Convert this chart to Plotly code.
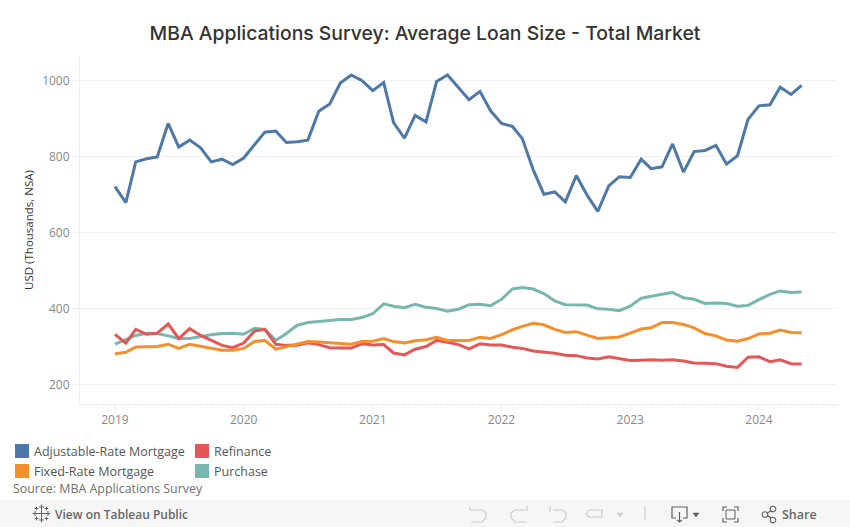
import pandas as pd
import plotly.graph_objects as go

# data (USD thousands, monthly)
months = pd.date_range("2019-01-01", periods=65, freq="MS")

arm = [721, 679, 786, 794, 799, 887, 825, 843, 823, 786, 793, 779, 796, 830, 864, 867,
       837, 839, 843, 919, 938, 993, 1014, 1000, 973, 994, 889, 848, 908, 891, 997, 1014,
       981, 949, 971, 920, 887, 879, 847, 765, 701, 707, 681, 750, 698, 656, 723, 747,
       745, 793, 768, 773, 833, 759, 813, 816, 829, 780, 802, 898, 933, 936, 982, 963, 987]
purchase = [307, 320, 330, 336, 335, 329, 322, 322, 328, 332, 335, 336, 333, 349, 346, 317,
            335, 357, 364, 367, 371, 372, 372, 377, 387, 413, 407, 403, 412, 404, 401, 394,
            399, 411, 412, 408, 425, 452, 456, 452, 440, 421, 411, 411, 410, 400, 399, 395,
            407, 428, 432, 438, 443, 429, 425, 414, 415, 414, 407, 409, 424, 438, 447, 443, 444]
refinance = [333, 310, 346, 333, 336, 360, 322, 348, 330, 317, 304, 298, 310, 342, 346, 307,
             304, 304, 311, 306, 298, 297, 297, 308, 305, 306, 284, 279, 294, 301, 317, 312,
             306, 295, 308, 305, 305, 299, 296, 289, 287, 283, 278, 277, 271, 268, 274, 269,
             264, 265, 266, 265, 266, 263, 258, 257, 256, 249, 246, 273, 274, 261, 266, 256, 255]
fixed = [282, 286, 300, 301, 301, 307, 296, 307, 302, 297, 291, 291, 296, 314, 317, 294,
         300, 307, 314, 313, 311, 308, 307, 314, 315, 322, 314, 310, 316, 319, 325, 317,
         317, 317, 325, 322, 332, 345, 354, 362, 358, 346, 338, 340, 331, 322, 324, 326,
         336, 347, 350, 364, 364, 359, 350, 335, 329, 318, 315, 322, 334, 336, 344, 338, 337]

BLUE = "#4e79a7"
RED = "#e45759"
ORANGE = "#f58f2c"
TEAL = "#78b7b0"

W, H = 850, 527
L, R, T, B = 80, 838, 56, 404
FONT = "Open Sans"


# page pixels -> paper coords, for the legend and the toolbar
def px(x):
    return (x - L) / (R - L)


def py(y):
    return (B - y) / (B - T)


def path(points, closed=False):
    s = "M" + " L".join(f"{px(x):.5f},{py(y):.5f}" for x, y in points)
    return s + (" Z" if closed else "")


def line_shape(points, color="#c8c8c8", width=1.2, fill=None):
    d = dict(type="path", xref="paper", yref="paper", path=path(points, fill is not None),
             line=dict(color=color, width=width), layer="above")
    if fill:
        d["fillcolor"] = fill
    return d


def rect_shape(x0, y0, x1, y1, fill, line=None, width=0):
    return dict(type="rect", xref="paper", yref="paper", x0=px(x0), x1=px(x1), y0=py(y0), y1=py(y1),
                fillcolor=fill, line=dict(color=line or fill, width=width), layer="above")


def label(text, x, y, size=12.5, color="#555555", family=FONT, weight=None):
    font = dict(size=size, color=color, family=family)
    if weight:
        font["weight"] = weight
    return dict(text=text, xref="paper", yref="paper", x=px(x), y=py(y), xanchor="left", yanchor="middle",
                showarrow=False, font=font, borderpad=0)


fig = go.Figure()
for name, values, color in [("Adjustable-Rate Mortgage", arm, BLUE),
                            ("Purchase", purchase, TEAL),
                            ("Refinance", refinance, RED),
                            ("Fixed-Rate Mortgage", fixed, ORANGE)]:
    fig.add_trace(go.Scatter(x=months, y=values, name=name, mode="lines",
                             line=dict(color=color, width=3, shape="linear")))

shapes = [
    rect_shape(0, 500, W, H, "#f6f6f6"),
    rect_shape(15, 444, 29, 458, BLUE),
    rect_shape(15, 464, 29, 478, ORANGE),
    rect_shape(195, 444, 209, 458, RED),
    rect_shape(195, 464, 209, 478, TEAL),
]

# toolbar icons
GREY = "#cccccc"
DARK = "#5f5f5f"
shapes += [
    line_shape([(470, 506), (470, 510), (482, 510), (486, 513), (486, 518), (482, 522), (471, 522)], GREY),
    line_shape([(527, 506), (527, 510), (515, 510), (511, 513), (511, 518), (515, 522), (526, 522)], GREY),
    line_shape([(550, 506), (550, 512)], GREY),
    line_shape([(553, 510), (562, 510), (566, 513), (566, 518), (562, 522), (554, 522)], GREY),
    line_shape([(589, 510), (602, 510), (602, 517), (589, 517), (586, 514), (589, 510)], GREY),
    line_shape([(617, 513), (623, 513), (620, 517)], GREY, 0.5, GREY),
    line_shape([(645, 507), (645, 520)], GREY),
    line_shape([(676, 518), (672, 518), (672, 507), (687, 507), (687, 518), (683, 518)], DARK),
    line_shape([(679.5, 512), (679.5, 522)], DARK),
    line_shape([(677, 520), (679.5, 522), (682, 520)], DARK),
    line_shape([(693, 513), (699, 513), (696, 517)], DARK, 0.5, DARK),
    line_shape([(723, 511), (723, 507), (727, 507)], DARK),
    line_shape([(734, 507), (738, 507), (738, 511)], DARK),
    line_shape([(738, 518), (738, 522), (734, 522)], DARK),
    line_shape([(727, 522), (723, 522), (723, 518)], DARK),
    rect_shape(726, 510, 735, 519, "rgba(0,0,0,0)", DARK, 1),
    line_shape([(773, 510), (765, 514), (773, 519)], DARK),
]
for cx, cy in [(773, 509), (765, 514.5), (773, 520)]:
    shapes.append(dict(type="circle", xref="paper", yref="paper", x0=px(cx - 2.8), x1=px(cx + 2.8),
                       y0=py(cy + 2.8), y1=py(cy - 2.8), fillcolor="#f6f6f6",
                       line=dict(color=DARK, width=1.1), layer="above"))
# tableau mark, small crosses
for cx, cy, r in [(41.5, 513.5, 4), (41.5, 507, 2.5), (41.5, 520, 2.5), (35, 513.5, 2.5), (48, 513.5, 2.5),
                  (36.5, 508.5, 1.8), (46.5, 508.5, 1.8), (36.5, 518.5, 1.8), (46.5, 518.5, 1.8)]:
    shapes.append(line_shape([(cx - r, cy), (cx + r, cy)], DARK, 1))
    shapes.append(line_shape([(cx, cy - r), (cx, cy + r)], DARK, 1))

annotations = [
    label("Adjustable-Rate Mortgage", 33, 451.5),
    label("Fixed-Rate Mortgage", 33, 471.5),
    label("Refinance", 213, 451.5),
    label("Purchase", 213, 471.5),
    label("Source: MBA Applications Survey", 12, 488, size=12.4, color="#6f6f6f"),
    label("View on Tableau Public", 54, 514, size=12, color="#666666", weight=600),
    label("Share", 781, 514, size=12.5, color="#666666", weight=600),
]

fig.update_layout(
    width=W,
    height=H,
    margin=dict(l=L, r=W - R, t=T, b=H - B, autoexpand=False),
    paper_bgcolor="white",
    plot_bgcolor="white",
    showlegend=False,
    title=dict(text="MBA Applications Survey: Average Loan Size - Total Market", x=425 / W, xanchor="center",
               xref="container", y=1 - 33 / H, yanchor="middle",
               font=dict(size=19.35, color="#333333", family="Inter", weight=500)),
    font=dict(family=FONT),
    shapes=shapes,
    annotations=annotations,
)
fig.update_xaxes(
    type="date",
    range=["2018-09-24", "2024-08-12"],
    tickvals=["2019-01-01", "2020-01-01", "2021-01-01", "2022-01-01", "2023-01-01", "2024-01-01"],
    ticktext=["2019", "2020", "2021", "2022", "2023", "2024"],
    ticks="outside",
    ticklen=4,
    tickcolor="#e6e6e6",
    tickfont=dict(size=12, color="#888888"),
    ticklabelstandoff=1,
    showgrid=False,
    showline=True,
    linecolor="#efefef",
    zeroline=False,
    minor=dict(dtick="M1", tick0="2019-01-01", ticks="outside", ticklen=2, tickcolor="#f0f0f0", showgrid=False),
)
fig.update_yaxes(
    range=[150, 1064],
    tickvals=[200, 400, 600, 800, 1000],
    ticks="outside",
    ticklen=7,
    tickcolor="#f0f0f0",
    tickfont=dict(size=12, color="#888888"),
    gridcolor="#f0f0f0",
    gridwidth=1,
    showline=True,
    linecolor="#efefef",
    zeroline=False,
    title=dict(text="USD (Thousands, NSA)", font=dict(size=11.5, color="#333333"), standoff=6),
)

fig.write_html("out.html", config=dict(displayModeBar=False), post_script="document.body.style.margin='0'")
